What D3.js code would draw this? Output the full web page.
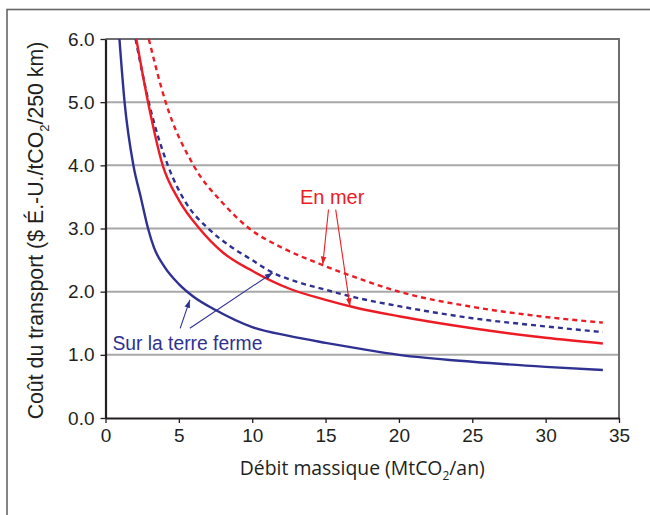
<!DOCTYPE html>
<html>
<head>
<meta charset="utf-8">
<script src="https://cdn.jsdelivr.net/npm/d3@7"></script>
<style>
  body { margin: 0; background: #fff; }
  text { font-family: "Liberation Sans", Arial, sans-serif; }
</style>
</head>
<body>
<div id="chart"></div>
<script>
const WIDTH = 650
const HEIGHT = 515
const margin = { top: 39, right: 31, bottom: 97, left: 105.5 }

// x = débit massique (MtCO2/an), y = coût ($/tCO2/250 km)
const landSolidX = [0.95, 1.3, 1.9, 2.4, 2.9, 3.3, 4, 5, 6, 7.5, 10, 12.5, 15, 17.5, 20, 25, 30, 33.9]
const landSolidY = [6.0, 5.0, 4.0, 3.5, 3.0, 2.7, 2.4, 2.12, 1.92, 1.71, 1.44, 1.3, 1.19, 1.09, 1.0, 0.89, 0.81, 0.76]

const seaSolidX = [2.1, 2.9, 3.9, 5, 6.4, 8, 10, 12.5, 15, 17, 20, 25, 30, 33.9]
const seaSolidY = [6.0, 5.0, 4.0, 3.45, 3.0, 2.62, 2.33, 2.05, 1.87, 1.75, 1.61, 1.42, 1.27, 1.18]

const landDashX = [2.05, 2.95, 4.25, 5.5, 7.0, 8.5, 10, 11.4, 13, 15, 17, 20, 25, 30, 33.9]
const landDashY = [6.0, 5.0, 4.0, 3.4, 3.0, 2.72, 2.5, 2.3, 2.16, 2.03, 1.91, 1.77, 1.58, 1.45, 1.36]

const seaDashX = [2.95, 4.1, 6.0, 8, 9.8, 12, 14.7, 17, 20, 25, 30, 33.9]
const seaDashY = [6.0, 5.0, 4.0, 3.4, 3.0, 2.7, 2.43, 2.23, 2.0, 1.76, 1.6, 1.51]

const xTicks = [0, 5, 10, 15, 20, 25, 30, 35]
const yTicks = [0, 1, 2, 3, 4, 5, 6]

const BLUE = '#2e3192'
const RED = '#ed1c24'

const svg = d3.select('#chart').append('svg')
  .attr('width', WIDTH)
  .attr('height', HEIGHT)

// outer frame
svg.append('rect')
  .attr('x', 7).attr('y', 9.5)
  .attr('width', 700).attr('height', 600)
  .attr('fill', 'none')
  .attr('stroke', '#666')
  .attr('stroke-width', 1.6)

const x = d3.scaleLinear().domain([0, 35]).range([margin.left, WIDTH - margin.right])
const y = d3.scaleLinear().domain([0, 6]).range([HEIGHT - margin.bottom, margin.top])

// gridlines
svg.append('g').selectAll('line')
  .data(yTicks.filter(d => d > 0 && d < 6))
  .enter().append('line')
  .attr('x1', x(0)).attr('x2', x(35))
  .attr('y1', d => y(d)).attr('y2', d => y(d))
  .attr('stroke', '#a8a8a8')
  .attr('stroke-width', 2)

// top + right border
svg.append('path')
  .attr('d', `M${x(0)},${y(6)}H${x(35)}V${y(0)}`)
  .attr('fill', 'none')
  .attr('stroke', '#6e6e6e')
  .attr('stroke-width', 2)

const xAxis = svg.append('g')
  .attr('transform', `translate(0,${y(0)})`)
  .call(d3.axisBottom(x).tickValues(xTicks).tickSize(5).tickSizeOuter(0).tickPadding(6))
xAxis.select('.domain').attr('stroke', '#231f20').attr('stroke-width', 2.2)
xAxis.selectAll('.tick line').attr('stroke', '#231f20').attr('stroke-width', 1.3)
xAxis.selectAll('text').attr('font-size', 19).attr('fill', '#231f20')
  .attr('font-family', '"Liberation Sans", Arial, sans-serif')

const yAxis = svg.append('g')
  .attr('transform', `translate(${x(0)},0)`)
  .call(d3.axisLeft(y).tickValues(yTicks).tickFormat(d3.format('.1f')).tickSize(5).tickSizeOuter(0).tickPadding(6))
yAxis.select('.domain').attr('stroke', '#231f20').attr('stroke-width', 2.2)
yAxis.selectAll('.tick line').attr('stroke', '#231f20').attr('stroke-width', 1.3)
yAxis.selectAll('text').attr('font-size', 19).attr('fill', '#231f20')
  .attr('font-family', '"Liberation Sans", Arial, sans-serif')

const line = d3.line()
  .x(d => x(d[0]))
  .y(d => y(d[1]))
  .curve(d3.curveMonotoneX)

const series = [
  { xs: seaDashX, ys: seaDashY, color: RED, dash: '5,4' },
  { xs: landDashX, ys: landDashY, color: BLUE, dash: '5,4' },
  { xs: seaSolidX, ys: seaSolidY, color: RED, dash: null },
  { xs: landSolidX, ys: landSolidY, color: BLUE, dash: null }
]

svg.append('g').selectAll('path')
  .data(series)
  .enter().append('path')
  .attr('d', s => line(d3.zip(s.xs, s.ys)))
  .attr('fill', 'none')
  .attr('stroke', s => s.color)
  .attr('stroke-width', 2.4)
  .attr('stroke-dasharray', s => s.dash)

// arrow markers
const defs = svg.append('defs')
;[['arrRed', RED], ['arrBlue', BLUE]].forEach(([id, c]) => {
  defs.append('marker')
    .attr('id', id)
    .attr('viewBox', '0 0 10 10')
    .attr('refX', 10).attr('refY', 5)
    .attr('markerWidth', 8).attr('markerHeight', 8)
    .attr('markerUnits', 'userSpaceOnUse')
    .attr('orient', 'auto')
    .append('path')
    .attr('d', 'M0,1.5L10,5L0,8.5Z')
    .attr('fill', c)
})

const arrows = [
  { from: [15.2, 3.3], to: [14.81, 2.43], color: RED, m: 'arrRed' },
  { from: [15.69, 3.3], to: [16.66, 1.77], color: RED, m: 'arrRed' },
  { from: [5.09, 1.42], to: [5.75, 1.87], color: BLUE, m: 'arrBlue' },
  { from: [5.75, 1.42], to: [11.4, 2.3], color: BLUE, m: 'arrBlue' }
]
svg.append('g').selectAll('line')
  .data(arrows)
  .enter().append('line')
  .attr('x1', d => x(d.from[0])).attr('y1', d => y(d.from[1]))
  .attr('x2', d => x(d.to[0])).attr('y2', d => y(d.to[1]))
  .attr('stroke', d => d.color)
  .attr('stroke-width', 1.1)
  .attr('marker-end', d => `url(#${d.m})`)

svg.append('text')
  .attr('x', x(15.45)).attr('y', y(3.38))
  .attr('text-anchor', 'middle')
  .attr('font-size', 20)
  .attr('fill', RED)
  .text('En mer')

svg.append('text')
  .attr('x', x(0.47)).attr('y', y(1.08))
  .attr('font-size', 19.3)
  .attr('fill', BLUE)
  .text('Sur la terre ferme')

// axis titles
const xt = svg.append('text')
  .attr('x', (x(0) + x(35)) / 2)
  .attr('y', 475)
  .attr('text-anchor', 'middle')
  .attr('font-size', 19.5)
  .attr('fill', '#231f20')
  .style('font-family', '"Open Sans", sans-serif')
  .attr('textLength', 245)
  .attr('lengthAdjust', 'spacingAndGlyphs')
xt.append('tspan').text('Débit massique (MtCO')
xt.append('tspan').attr('font-size', 12).attr('dy', 5).text('2')
xt.append('tspan').attr('dy', -5).text('/an)')

const yt = svg.append('text')
  .attr('transform', `translate(43,${(y(0) + y(6)) / 2 + 2}) rotate(-90)`)
  .attr('text-anchor', 'middle')
  .attr('font-size', 21.3)
  .attr('fill', '#231f20')
yt.append('tspan').text('Coût du transport ($ É.-U./tCO')
yt.append('tspan').attr('font-size', 13).attr('dy', 6).text('2')
yt.append('tspan').attr('dy', -6).text('/250 km)')
</script>
</body>
</html>
